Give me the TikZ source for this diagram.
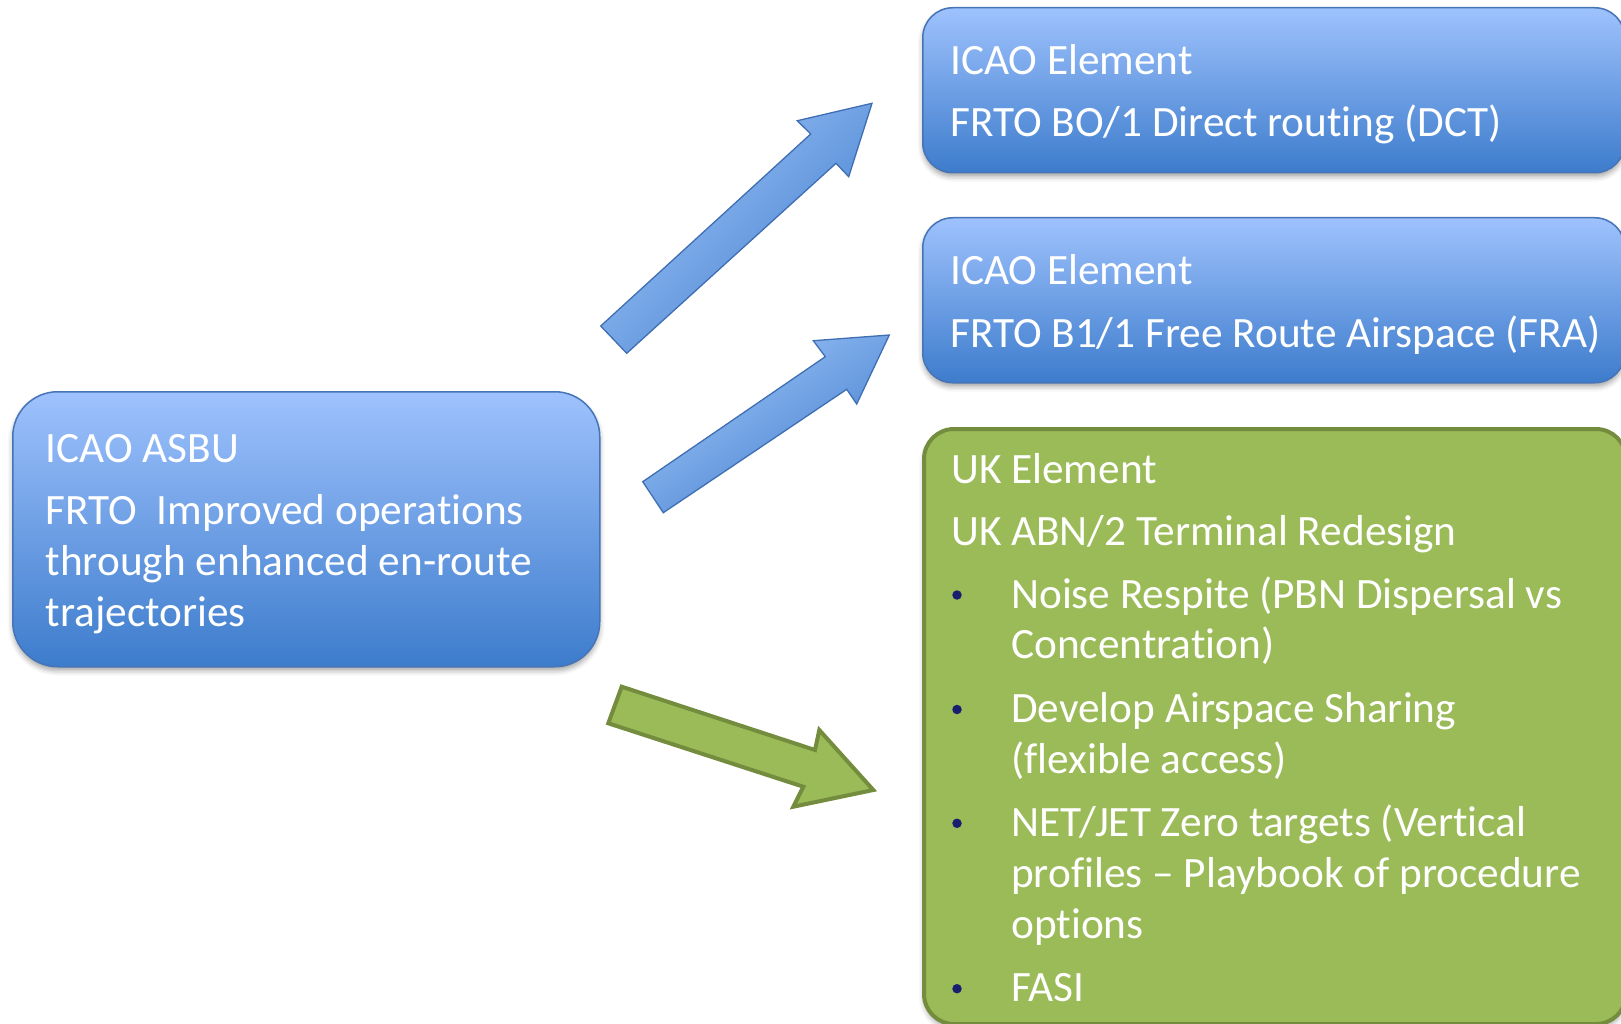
\documentclass[tikz,border=0pt]{standalone}
\usepackage{fontspec}
\setmainfont{Carlito}[Ligatures={NoCommon}]
\usetikzlibrary{shadows.blur}

\definecolor{boxtop}{RGB}{158,194,253}
\definecolor{boxbot}{RGB}{61,124,204}
\definecolor{boxline}{RGB}{70,116,182}
\definecolor{arrowlight}{RGB}{160,198,250}
\definecolor{arrowdark}{RGB}{66,126,205}
\definecolor{arrowline}{RGB}{64,110,178}
\definecolor{greenfill}{RGB}{155,187,89}
\definecolor{greenline}{RGB}{115,140,62}
\definecolor{bulletcol}{RGB}{25,30,110}

\tikzset{
  softshadow/.style={blur shadow={shadow xshift=0pt, shadow yshift=-4pt,
      shadow blur radius=5pt, shadow opacity=35}},
  bluebox/.style={draw=boxline, line width=1.5pt, inner sep=0pt,
      top color=boxtop, bottom color=boxbot, softshadow, anchor=north west},
  greenbox/.style={draw=greenline, line width=4pt, inner sep=0pt,
      fill=greenfill, softshadow, anchor=north west},
  bluearrow/.style={draw=arrowline, line width=1.3pt, line join=miter},
  greenarrow/.style={draw=greenline, fill=greenfill, line width=4pt, line join=miter},
  txt/.style={anchor=base west, inner sep=0pt, text=white,
      font=\fontsize{43.3pt}{51pt}\selectfont},
  bulletdot/.style={circle, fill=bulletcol, inner sep=0pt, minimum size=9.5pt},
}

\begin{document}
\begin{tikzpicture}[x=1pt, y=-1pt]
\useasboundingbox (0,0) rectangle (1621,1024);
\clip (0,0) rectangle (1621,1024);

% boxes
\node[bluebox, rounded corners=45pt, minimum width=587pt, minimum height=275pt]
  (asbu) at (12,391) {};
\node[bluebox, rounded corners=30pt, minimum width=702pt, minimum height=165pt]
  (dct) at (922,7) {};
\node[bluebox, rounded corners=30pt, minimum width=702pt, minimum height=165pt]
  (fra) at (922,217) {};
\node[greenbox, rounded corners=30pt, minimum width=702pt, minimum height=595pt]
  (uk) at (922,427) {};

% block arrows
\shade[bluearrow, top color=arrowlight, bottom color=arrowdark, shading angle=45]
  (600.7,326) -- (810.7,134) -- (797.3,120.7) -- (872,103.3) -- (848.7,176.7)
  -- (836,163.3) -- (626.7,353.3) -- cycle;
\shade[bluearrow, top color=arrowlight, bottom color=arrowdark, shading angle=34]
  (642.7,481.7) -- (825.3,356.7) -- (813.3,340.7) -- (889.3,335) -- (856.7,404)
  -- (846.7,389.3) -- (663.3,512.7) -- cycle;
\filldraw[greenarrow]
  (621.7,686.7) -- (815,750) -- (819.3,730) -- (873.3,790) -- (793.3,806.7)
  -- (803.3,786.7) -- (608.3,723.3) -- cycle;

% left box text
\node[txt] (asbu1) at (45.5,462) {ICAO ASBU};
\node[txt] (asbu2) at (45.5,524) {FRTO\ \ Improved operations};
\node[txt] (asbu3) at (45.5,575) {through enhanced en-route};
\node[txt] (asbu4) at (45.5,626) {trajectories};

% upper right boxes text
\node[txt] (dct1) at (950,74.5) {ICAO Element};
\node[txt] (dct2) at (950,136.5) {FRTO BO/1 Direct routing (DCT)};
\node[txt] (fra1) at (950,284.5) {ICAO Element};
\node[txt] (fra2) at (950,347) {FRTO B1/1 Free Route Airspace (FRA)};

% green box text
\node[txt] (uk1) at (951,483) {UK Element};
\node[txt] (uk2) at (951,545) {UK ABN/2 Terminal Redesign};
\node[txt] (uk3) at (1011,608) {Noise Respite (PBN Dispersal vs};
\node[txt] (uk4) at (1011,658.5) {Concentration)};
\node[txt] (uk5) at (1011,722.5) {Develop Airspace Sharing};
\node[txt] (uk6) at (1011,773.3) {(flexible access)};
\node[txt] (uk7) at (1011,836.3) {NET/JET Zero targets (Vertical};
\node[txt] (uk8) at (1011,887) {profiles -- Playbook of procedure};
\node[txt] (uk9) at (1011,938.5) {options};
\node[txt] (uk10) at (1011,1001.7) {FASI};

% bullets
\node[bulletdot] (b1) at (957,595) {};
\node[bulletdot] (b2) at (957,709.5) {};
\node[bulletdot] (b3) at (957,823.3) {};
\node[bulletdot] (b4) at (957,988.7) {};
\end{tikzpicture}
\end{document}
